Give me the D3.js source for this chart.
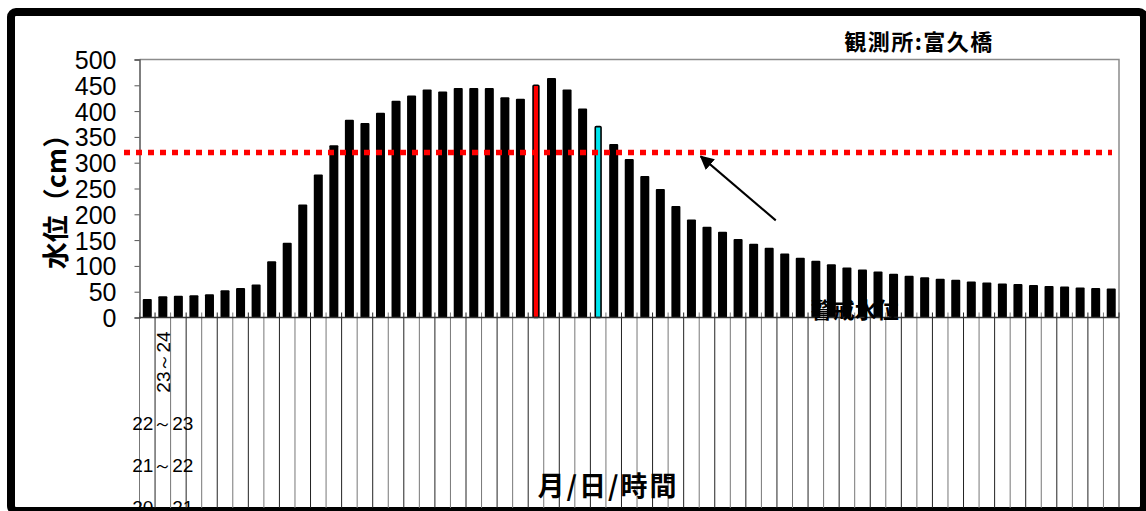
<!DOCTYPE html>
<html>
<head>
<meta charset="utf-8">
<title>水位 富久橋</title>
<script src="https://cdn.jsdelivr.net/npm/d3@7"></script>
<style>
  body { margin: 0; background: #fff; }
  svg { display: block; }
  .jp { font-family: "Noto Sans CJK JP", sans-serif; font-weight: bold; }
  .num { font-family: "Liberation Sans", Arial, sans-serif; }
</style>
</head>
<body>
<svg id="chart" width="1146" height="511"></svg>
<script>
// water level (cm) per hour
const levels = [36, 41, 42, 43, 45, 53, 57, 64, 109, 145, 219, 277, 334, 383, 377, 397, 420, 430, 442, 438,
  445, 445, 445, 427, 424, 450, 464, 442, 405, 370, 336, 307, 274, 249, 216, 190, 176, 166, 152, 143,
  135, 124, 116, 110, 103, 97, 93, 89, 85, 81, 78, 75, 73, 70, 68, 66, 65, 63, 61, 60,
  58, 57, 56];
const redBar = 25;     // highlighted bars
const cyanBar = 29;
const warningLevel = 320;
const yTicks = [0, 50, 100, 150, 200, 250, 300, 350, 400, 450, 500];
// hour labels as they show under the axis (first one rotated, rest stacked)
const hourLabels = ["23～24", "22～23", "21～22", "20～21"];

const svg = d3.select("#chart");
const idx = d3.range(levels.length);

var x = d3.scaleBand().domain(idx).range([139.5, 1119]).paddingInner(0.42).paddingOuter(0.21);
var y = d3.scaleLinear().domain([0, 500]).range([317.5, 59.5]);

// outer frame
svg.append("rect").attr("x", 11).attr("y", 12).attr("width", 1133).attr("height", 499)
  .attr("rx", 5).attr("fill", "none").attr("stroke", "#000").attr("stroke-width", 8);

// plot border (top / right)
svg.append("path").attr("d", `M139.5,59.5H1119V317.5`).attr("fill", "none").attr("stroke", "#8c8c8c").attr("stroke-width", 1.5);

// vertical separators under the category axis
const step = x.step();
svg.append("g").selectAll("line").data(d3.range(levels.length + 1)).enter().append("line")
  .attr("x1", d => 139.5 + d * step).attr("x2", d => 139.5 + d * step)
  .attr("y1", y(0) - 5).attr("y2", 508)
  .attr("stroke", (d, i) => i % 2 ? "#222" : "#777").attr("stroke-width", 1);

// bars
svg.append("g").selectAll("rect").data(idx).enter().append("rect")
  .attr("x", i => (i === redBar || i === cyanBar) ? x(i) + x.bandwidth() * 0.18 : x(i))
  .attr("y", i => y(levels[i]))
  .attr("width", i => (i === redBar || i === cyanBar) ? x.bandwidth() * 0.64 : x.bandwidth())
  .attr("height", i => y(0) - y(levels[i]))
  .attr("rx", 1)
  .attr("fill", i => i === redBar ? "#ff0000" : i === cyanBar ? "#00e5ee" : "#000")
  .attr("stroke", i => (i === redBar || i === cyanBar) ? "#000" : "none")
  .attr("stroke-width", 1.6);

// y axis
var yAxis = d3.axisLeft(y).tickValues(yTicks).tickSize(5).tickPadding(18);
var gy = svg.append("g").attr("transform", "translate(139.5,0)").call(yAxis);
gy.select(".domain").attr("stroke", "#555").attr("stroke-width", 1.5);
gy.selectAll(".tick line").attr("stroke", "#555");
gy.selectAll("text").attr("class", "num").style("font-size", "25px").attr("fill", "#000").attr("dy", "0.36em");

// x axis line
svg.append("line").attr("x1", 139.5).attr("x2", 1119).attr("y1", y(0)).attr("y2", y(0))
  .attr("stroke", "#333").attr("stroke-width", 1.5);

// warning level line
svg.append("line").attr("x1", 124).attr("x2", 1112).attr("y1", y(warningLevel)).attr("y2", y(warningLevel))
  .attr("stroke", "#ff0000").attr("stroke-width", 5.5).attr("stroke-dasharray", "6,6");

// arrow pointing at the warning line
svg.append("defs").append("marker").attr("id", "head").attr("viewBox", "0 0 10 10")
  .attr("refX", 9).attr("refY", 5).attr("markerWidth", 7).attr("markerHeight", 7).attr("orient", "auto")
  .append("path").attr("d", "M0,0L10,5L0,10z").attr("fill", "#000");
var tipX = 139.5 + 36.1 * step, tipY = y(warningLevel) + 4;
svg.append("line").attr("x1", tipX + 75).attr("y1", tipY + 64).attr("x2", tipX).attr("y2", tipY)
  .attr("stroke", "#000").attr("stroke-width", 2).attr("marker-end", "url(#head)");

svg.append("text").attr("class", "jp").attr("x", 139.5 + 46 * step).attr("y", 318)
  .attr("text-anchor", "middle").style("font-size", "22px").text("警戒水位");

// title
svg.append("text").attr("class", "jp").attr("x", 919).attr("y", 50).attr("text-anchor", "middle")
  .style("font-size", "22px").style("letter-spacing", "1.5px").text("観測所:富久橋");

// y title
svg.append("text").attr("class", "jp").attr("transform", "translate(66,195) rotate(-90)")
  .attr("text-anchor", "middle").style("font-size", "27px").text("水位（cm）");

// x title
svg.append("text").attr("class", "jp").attr("x", 608).attr("y", 496).attr("text-anchor", "middle")
  .style("font-size", "27px").style("letter-spacing", "2px").text("月/日/時間");

// hour labels
var labX = 139.5 + 1.5 * step;
svg.append("text").attr("class", "num").attr("transform", `translate(${labX + 7},362) rotate(-90)`)
  .attr("text-anchor", "middle").style("font-size", "19px").text(hourLabels[0]);
svg.append("g").selectAll("text").data(hourLabels.slice(1)).enter().append("text")
  .attr("class", "num").attr("x", labX).attr("y", (d, i) => 430 + i * 42)
  .attr("text-anchor", "middle").style("font-size", "19px").text(d => d);
</script>
</body>
</html>
